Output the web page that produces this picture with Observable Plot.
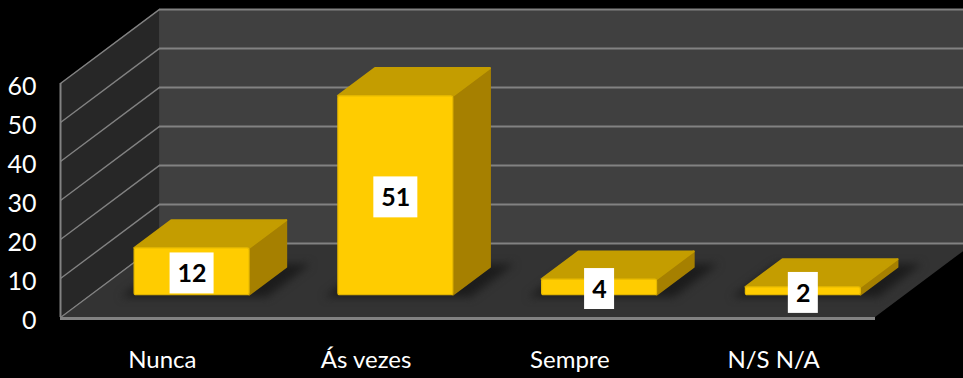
<!DOCTYPE html>
<html>
<head>
<meta charset="utf-8">
<script src="https://cdn.jsdelivr.net/npm/d3@7"></script>
<script src="https://cdn.jsdelivr.net/npm/@observablehq/plot@0.6"></script>
<style>
html,body{margin:0;padding:0;background:#000;}
svg{display:block;}
</style>
</head>
<body>
<div id="chart"></div>
<script>
const categories = ["Nunca", "Ás vezes", "Sempre", "N/S N/A"];
const values = [12, 51, 4, 2];
const yTicks = [0, 10, 20, 30, 40, 50, 60];

// Oblique projection, in scale units (x: category steps, y: axis values)
const depthX = 0.486, depthY = 19;
const barStart = 0.30, barDepth = 0.375, barHalf = 0.282;
const px = d => d * depthX, py = d => d * depthY;
const xMin = -0.5, xMax = 3.5, yMax = 60;

const bars = values.map((v, i) => {
  const cx = i + px(barStart), base = py(barStart);
  return {i, v, cx, base, top: base + v, x1: cx - barHalf, x2: cx + barHalf};
});
const side = bars.flatMap(b => [0, barDepth].map(d => ({
  i: b.i, x: b.x2 + px(d), y1: b.base + py(d), y2: b.top + py(d)})));
const topFace = bars.flatMap(b => [0, barDepth].map(d => ({
  i: b.i, y: b.top + py(d), x1: b.x1 + px(d), x2: b.x2 + px(d)})));
const shadow = bars.flatMap(b => [-0.03, barDepth + 0.04].map(d => ({
  i: b.i, y: b.base + py(d), x1: b.x1 + px(d) - 0.05, x2: b.x2 + px(d) + 0.1})));
const boxes = bars.map(b => {
  const half = String(b.v).length > 1 ? 0.108 : 0.0736;
  const cy = b.base + b.v / 2 - 0.4;
  return {x1: b.cx - half, x2: b.cx + half, y1: cy - 5.25, y2: cy + 5.25, cx: b.cx, cy, label: b.v};
});

const leftWall = [0, 1].map(d => ({x: xMin + px(d), y1: py(d), y2: yMax + py(d)}));
const floor = [0, 1].map(d => ({y: py(d), x1: xMin + px(d), x2: xMax + px(d)}));
const backWall = [{x: xMin + px(1), y1: py(1), y2: yMax + py(1)}, {x: xMax + px(1), y1: py(1), y2: yMax + py(1)}];
const sideLines = yTicks.map(t => ({x1: xMin, y1: t, x2: xMin + px(1), y2: t + py(1)}));

const gridColor = "#828282";
const fontFamily = "Lato, Carlito, sans-serif";

const plot = Plot.plot({
  width: 963,
  height: 378,
  marginLeft: 60,
  marginRight: 88,
  marginTop: 83,
  marginBottom: 61,
  style: {background: "#000", color: "#fff", fontFamily},
  x: {domain: [xMin, xMax]},
  y: {domain: [0, yMax]},
  marks: [
    Plot.areaY(backWall, {x: "x", y1: "y1", y2: "y2", fill: "#404040"}),
    Plot.areaY(leftWall, {x: "x", y1: "y1", y2: "y2", fill: "#272727"}),
    Plot.areaX(floor, {y: "y", x1: "x1", x2: "x2", fill: "#333333"}),
    Plot.ruleY(yTicks.map(t => t + py(1)), {x1: xMin + px(1), x2: xMax + px(1), stroke: gridColor, strokeWidth: 2}),
    Plot.link(sideLines, {x1: "x1", y1: "y1", x2: "x2", y2: "y2", stroke: gridColor, strokeWidth: 1.4}),
    Plot.ruleX([xMin], {y1: 0, y2: yMax, stroke: gridColor, strokeWidth: 2}),
    Plot.ruleY([0], {x1: xMin, x2: xMax, dy: 1, stroke: gridColor, strokeWidth: 3}),
    Plot.areaX(shadow, {y: "y", x1: "x1", x2: "x2", z: "i", fill: "#1c1c1c", imageFilter: "blur(4px)"}),
    Plot.areaY(side, {x: "x", y1: "y1", y2: "y2", z: "i", fill: "#A68000", stroke: "#A68000", strokeWidth: 2, strokeLinejoin: "round"}),
    Plot.areaX(topFace, {y: "y", x1: "x1", x2: "x2", z: "i", fill: "#C49D00", stroke: "#C49D00", strokeWidth: 2, strokeLinejoin: "round"}),
    Plot.rect(bars, {x1: "x1", x2: "x2", y1: "base", y2: "top", fill: "#FFCC00", stroke: "#E8BA00", strokeWidth: 1.2, rx: 2}),
    Plot.rect(boxes, {x1: "x1", x2: "x2", y1: "y1", y2: "y2", fill: "#fff"}),
    Plot.text(boxes, {x: "cx", y: "cy", text: d => String(d.label), fill: "#000", fontSize: 25, fontWeight: 700, dy: 1}),
    Plot.axisY({ticks: yTicks, tickSize: 0, tickPadding: 24, fontSize: 25, fill: "#fff", label: null, tickFormat: String, dy: 3}),
    Plot.axisX({ticks: [0, 1, 2, 3], tickSize: 0, tickPadding: 33, fontSize: 24, fill: "#fff", label: null, tickFormat: i => categories[i]})
  ]
});
document.getElementById("chart").appendChild(plot);
</script>
</body>
</html>
